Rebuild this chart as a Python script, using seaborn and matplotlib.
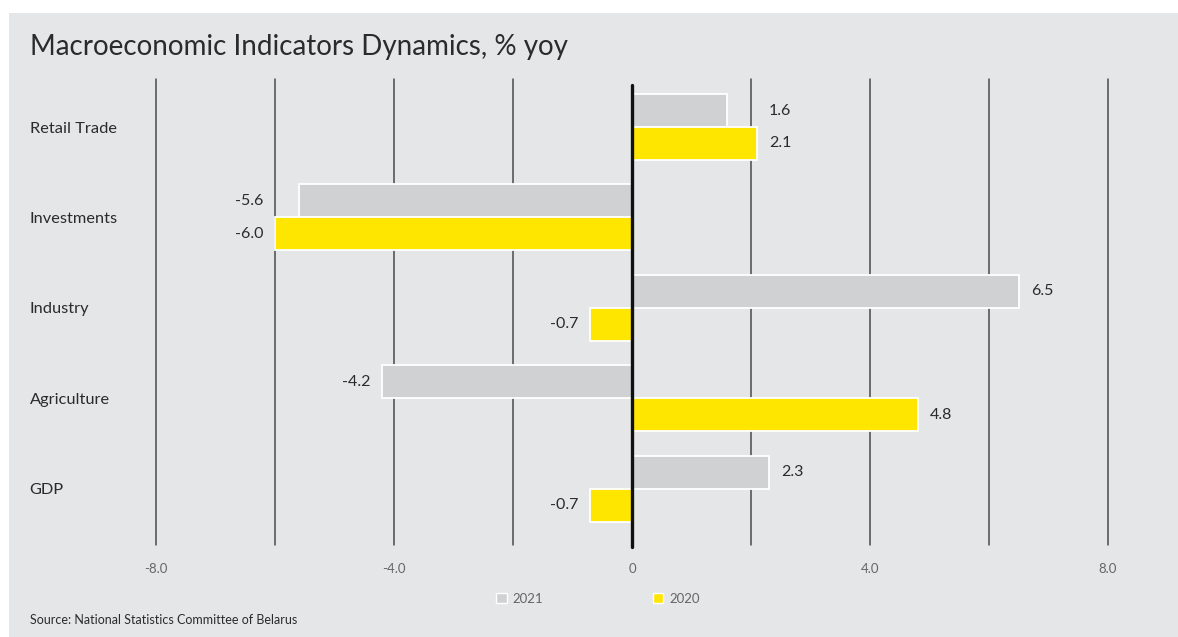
import matplotlib
matplotlib.use("Agg")
import matplotlib.pyplot as plt
from matplotlib.patches import Rectangle, Patch
import seaborn as sns
import pandas as pd

# Data (% year over year)
indicators = ["Retail Trade", "Investments", "Industry", "Agriculture", "GDP"]
years = ["2021", "2020"]
values_2021 = [1.6, -5.6, 6.5, -4.2, 2.3]
values_2020 = [2.1, -6.0, -0.7, 4.8, -0.7]
x_ticks = [-8, -4, 0, 4, 8]
x_tick_labels = ["-8.0", "-4.0", "0", "4.0", "8.0"]

title = "Macroeconomic Indicators Dynamics, % yoy"
source = "Source: National Statistics Committee of Belarus"

GRAY = "#d0d1d3"
YELLOW = "#ffe600"
PANEL = "#e5e6e8"
TEXT = "#2b2b2b"
TICK = "#666666"

df = pd.DataFrame({
    "indicator": indicators * 2,
    "year": [years[0]] * len(indicators) + [years[1]] * len(indicators),
    "value": values_2021 + values_2020,
})

sns.set_theme(style="white")
plt.rcParams["font.family"] = ["Lato", "DejaVu Sans"]

W, H = 1178, 637
fig = plt.figure(figsize=(W / 100, H / 100), dpi=100, facecolor="white")

# grey panel behind everything
fig.patches.append(Rectangle((9 / W, 0), 1 - 9 / W, 1 - 13 / H,
                             transform=fig.transFigure, facecolor=PANEL,
                             edgecolor="none", zorder=-10))

ax = fig.add_axes([156 / W, 1 - 545 / H, (1108 - 156) / W, (545 - 79) / H])
ax.set_facecolor("none")

sns.barplot(data=df, y="indicator", x="value", hue="year", hue_order=years,
            order=indicators, palette=[GRAY, YELLOW], width=0.73,
            edgecolor="white", linewidth=1.3, orient="h", legend=False,
            saturation=1, ax=ax, zorder=3)

ax.set_xlim(-8, 8)
ax.set_ylim(4.624, -0.531)

# vertical gridlines every 2 units, zero line emphasised
for gx in range(-8, 9, 2):
    if gx == 0:
        continue
    ax.axvline(gx, color="#4a4a4a", lw=1.1, zorder=1, clip_on=False)
ax.axvline(0, ymin=-0.004, ymax=1 - 6 / 466, color="#111111", lw=2.4, zorder=4,
           clip_on=False)

for s in ax.spines.values():
    s.set_visible(False)

ax.set_xticks(x_ticks)
ax.set_xticklabels(x_tick_labels)
ax.tick_params(axis="x", length=0, pad=13, labelsize=9.5, labelcolor=TICK)
ax.tick_params(axis="y", length=0, pad=91, labelsize=11.8, labelcolor=TEXT)
for lab in ax.get_yticklabels():
    lab.set_horizontalalignment("left")
    lab.set_verticalalignment("center_baseline")
ax.set_xlabel("")
ax.set_ylabel("")

# value labels: positives aligned past the longest positive bar of each group,
# negatives aligned before the longest negative bar
groups = list(zip(values_2021, values_2020))
for container, vals in zip(ax.containers, [values_2021, values_2020]):
    for i, (bar, v) in enumerate(zip(container, vals)):
        yc = bar.get_y() + bar.get_height() / 2
        same_sign = [g for g in groups[i] if (g >= 0) == (v >= 0)]
        if v >= 0:
            ax.annotate(f"{v:.1f}", xy=(max(same_sign), yc), xytext=(12, 0),
                        textcoords="offset pixels", ha="left", va="center",
                        fontsize=11.5, color=TEXT)
        else:
            ax.annotate(f"{v:.1f}", xy=(min(same_sign), yc), xytext=(-12, 0),
                        textcoords="offset pixels", ha="right", va="center",
                        fontsize=11.5, color=TEXT)

fig.text(30 / W, 1 - 47 / H, title, ha="left", va="center", fontsize=20,
         fontweight="normal", color=TEXT)
fig.text(30 / W, 1 - 620 / H, source, ha="left", va="center", fontsize=9,
         color=TEXT)

handles = [Patch(facecolor=GRAY, edgecolor="white", linewidth=1),
           Patch(facecolor=YELLOW, edgecolor="white", linewidth=1)]
fig.legend(handles, years, loc="center", bbox_to_anchor=(598 / W, 1 - 599 / H),
           ncol=2, frameon=False, fontsize=9.5, labelcolor=TICK,
           handlelength=0.8, handleheight=0.8, handletextpad=0.45,
           columnspacing=8.3)

fig.savefig("out.png", dpi=100, facecolor="white")
